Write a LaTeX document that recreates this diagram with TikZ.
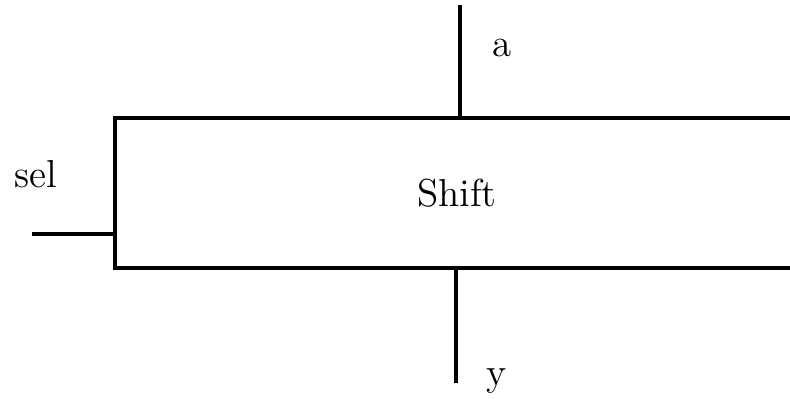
\documentclass[tikz,border=0pt]{standalone}
\usetikzlibrary{positioning}
\begin{document}
\begin{tikzpicture}[
  font=\fontsize{11.1}{13}\selectfont,
  block/.style={rectangle, draw, line width=1pt, minimum width=6.84cm, minimum height=1.5cm},
  wire/.style={line width=1pt}
]
\useasboundingbox (0,0) rectangle (7.9,3.99);
\node[block] (shift) at (4.57,2.06) {\raisebox{-0.7mm}{Shift}};
% free ends of the ports
\coordinate (ain) at (4.60,3.94);
\coordinate (selin) at (0.32,1.65);
\coordinate (yout) at (4.56,0.16);
\draw[wire] (ain) -- (ain |- shift.north);
\draw[wire] (selin) -- (selin -| shift.west);
\draw[wire] (yout |- shift.south) -- (yout);
% port names
\node (alab) at (5.02,3.51) {a};
\node (sellab) at (0.36,2.25) {sel};
\node (ylab) at (4.97,0.18) {y};
\end{tikzpicture}
\end{document}
